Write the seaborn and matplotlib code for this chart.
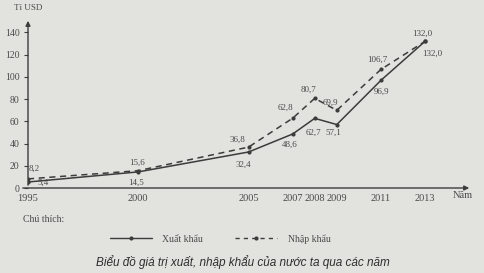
import matplotlib
matplotlib.use("Agg")
import matplotlib.pyplot as plt
import seaborn as sns
import pandas as pd
from matplotlib.lines import Line2D

# ---- data ----
years = [1995, 2000, 2005, 2007, 2008, 2009, 2011, 2013]
xuat_khau = [5.4, 14.5, 32.4, 48.6, 62.7, 57.1, 96.9, 132.0]
nhap_khau = [8.2, 15.6, 36.8, 62.8, 80.7, 69.9, 106.7, 132.0]
y_ticks = [0, 20, 40, 60, 80, 100, 120, 140]
series_names = ["Xuất khẩu", "Nhập khẩu"]

df = pd.DataFrame({
    "Năm": years * 2,
    "Giá trị": xuat_khau + nhap_khau,
    "Loại": [series_names[0]] * len(years) + [series_names[1]] * len(years),
})

sns.set_theme(style="white")
plt.rcParams["font.family"] = ["Liberation Serif", "DejaVu Serif"]

BG = "#e2e2de"
INK = "#3c3c3c"
TXT = "#4a4a4a"

fig = plt.figure(figsize=(4.84, 2.73), dpi=100, facecolor=BG)
W, H = 484, 273
ax = fig.add_axes([28 / W, (H - 188) / H, 444 / W, 170 / H])
ax.set_facecolor(BG)

sns.lineplot(data=df[df["Loại"] == series_names[0]], x="Năm", y="Giá trị", ax=ax,
             color=INK, linewidth=1.1, marker="o", markersize=3,
             markeredgewidth=0, legend=False)
sns.lineplot(data=df[df["Loại"] == series_names[1]], x="Năm", y="Giá trị", ax=ax,
             color=INK, linewidth=1.1, linestyle=(0, (4, 3)), marker="o",
             markersize=3, markeredgewidth=0, legend=False)

ax.set_xlim(1995, 2015.13)
ax.set_ylim(0, 153)
ax.set_xticks(years)
ax.set_xticklabels([str(y) for y in years])
ax.set_yticks(y_ticks)
ax.set_yticklabels([str(v) for v in y_ticks])
ax.set_xlabel("")
ax.set_ylabel("")
for s in ax.spines.values():
    s.set_visible(False)
ax.tick_params(axis="x", length=0, pad=4, labelsize=7.5, labelcolor=TXT)
ax.tick_params(axis="y", length=3, width=0.8, color=INK, pad=3, labelsize=7,
               labelcolor=TXT, left=True)

# axes with arrows
arrow = dict(arrowstyle="-|>", color=INK, lw=1.0, mutation_scale=7)
ax.annotate("", xy=(0, 1.0), xytext=(0, 0), xycoords="axes fraction",
            textcoords="axes fraction", arrowprops=arrow)
ax.annotate("", xy=(1.0, 0), xytext=(-0.018, 0), xycoords="axes fraction",
            textcoords="axes fraction", arrowprops=arrow, annotation_clip=False)

def fmt(v):
    return f"{v:.1f}".replace(".", ",")

# label offsets in pixels (dx, dy) relative to points; dy positive = up
off_x = [(15, -1), (-2, -11), (-5, -13), (-3, -11), (-1, -14), (-3, -8), (1, -11), (7, -12)]
off_n = [(6, 10), (-1, 8), (-11, 7), (-7, 10), (-6, 9), (-6, 8), (-4, 10), (-3, 8)]
for yr, v, o in zip(years, xuat_khau, off_x):
    ax.annotate(fmt(v), (yr, v), xytext=o, textcoords="offset pixels",
                ha="center", va="center", fontsize=6.5, color=TXT)
for yr, v, o in zip(years, nhap_khau, off_n):
    ax.annotate(fmt(v), (yr, v), xytext=o, textcoords="offset pixels",
                ha="center", va="center", fontsize=6.5, color=TXT)

fig.text(28 / W, 1 - 8 / H, "Tỉ USD", ha="center", va="center", fontsize=6.5, color=TXT)
fig.text(453 / W, 1 - 196 / H, "Năm", ha="left", va="center", fontsize=7.5, color=TXT)
fig.text(23 / W, 1 - 219 / H, "Chú thích:", ha="left", va="center", fontsize=7, color=TXT)

handles = [
    Line2D([], [], color=INK, lw=1.0, marker="o", markersize=3, markeredgewidth=0),
    Line2D([], [], color=INK, lw=1.0, linestyle=(0, (3, 3)), marker="o",
           markersize=3, markeredgewidth=0),
]
leg = fig.legend(handles, series_names, loc="center left",
                 bbox_to_anchor=(110 / W, 1 - 239 / H), ncol=2, frameon=False,
                 handlelength=4.3, handletextpad=1.1, columnspacing=3.3,
                 borderpad=0, borderaxespad=0, prop={"size": 7})
for t in leg.get_texts():
    t.set_color(TXT)

fig.text(243 / W, 1 - 262 / H,
         "Biểu đồ giá trị xuất, nhập khẩu của nước ta qua các năm",
         ha="center", va="center", fontsize=8.5, style="italic",
         family=["Liberation Sans", "DejaVu Sans"], color="#2e2e2e")

fig.savefig("out.png", dpi=100, facecolor=BG)
